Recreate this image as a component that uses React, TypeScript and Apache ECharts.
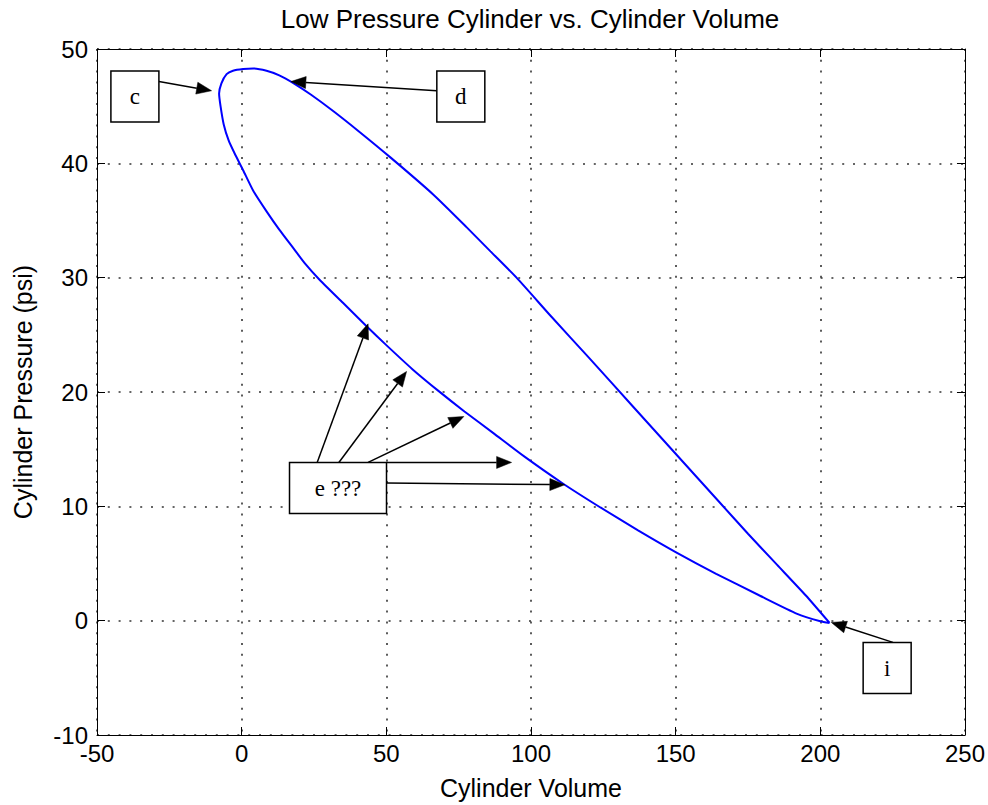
import { useEffect, useRef } from "react";
import * as echarts from "echarts";

// Pressure-volume loop (volume, psi)
// upper (expansion) branch from the right-hand tip up to the peak, then the lower branch back
const loopVolume = [
  203.2, 195.0, 185.0, 175.0, 165.0, 150.0, 135.0, 120.0, 107.0, 95.0,
  86.0, 77.8, 66.1, 51.5, 40.0, 31.5, 24.0, 18.0, 13.0, 8.6,
  4.0, 0.5, -3.0, -5.2, -7.0, -7.8, -7.3, -6.2, -4.5, -2.5,
  0.5, 4.0, 8.6, 13.0, 17.8, 22.0, 27.0, 35.0, 43.0, 50.0,
  59.0, 68.0, 77.0, 87.0, 98.0, 111.0, 124.0, 137.0, 150.0, 164.0,
  179.0, 192.0, 200.0, 203.2,
];
const loopPressure = [
  -0.2, 2.2, 4.9, 7.6, 10.4, 14.6, 18.8, 23.0, 26.6, 30.0,
  32.3, 34.4, 37.3, 40.5, 42.9, 44.6, 46.0, 47.0, 47.7, 48.1,
  48.3, 48.25, 48.1, 47.8, 47.0, 46.1, 45.0, 43.4, 42.0, 40.9,
  39.4, 37.6, 35.8, 34.2, 32.6, 31.2, 29.8, 27.8, 25.8, 24.1,
  22.0, 20.1, 18.3, 16.4, 14.3, 12.0, 9.9, 7.9, 6.0, 4.1,
  2.2, 0.6, -0.05, -0.2,
];

// Axis ranges / ticks
const xRange = [-50, 250];
const xStep = 50;
const yRange = [-10, 50];
const yStep = 10;

// Annotation boxes: label, centre in data coordinates
const boxLabels = ["c", "d", "e ???", "i"];
const boxCenters = [
  [-36.9, 45.85],
  [75.75, 45.85],
  [33.3, 11.6],
  [223.1, -4.15],
];
// Arrows: start and tip in data coordinates
const arrowStarts = [
  [-28.6, 47.15],
  [67.4, 46.35],
  [26.1, 13.84],
  [33.6, 13.84],
  [43.7, 13.84],
  [50.1, 13.84],
  [50.1, 12.04],
  [225.1, -1.9],
];
const arrowTips = [
  [-10.4, 46.35],
  [17.0, 47.15],
  [43.7, 25.96],
  [57.0, 21.8],
  [76.8, 17.86],
  [93.3, 13.84],
  [111.7, 11.89],
  [203.8, -0.15],
];

const SANS = "'Liberation Sans', Arial, sans-serif";
const SERIF = "'Liberation Serif', 'Times New Roman', serif";

export default function App() {
  const ref = useRef<HTMLDivElement>(null);

  useEffect(() => {
    if (!ref.current) return;
    const chart = echarts.init(ref.current, undefined, { renderer: "svg" });

    const axisLine = { show: true, onZero: false, lineStyle: { color: "#000", width: 1 } };
    const axisTick = { show: true, inside: true, length: 8, lineStyle: { color: "#000", width: 1 } };
    const gridLine = { show: true, lineStyle: { color: "#333", width: 1.6, type: [2, 8.8] } };
    const labelStyle = { color: "#000", fontSize: 24, fontFamily: SANS };
    const nameStyle = { color: "#000", fontSize: 25, fontFamily: SANS };

    chart.setOption({
      animation: false,
      backgroundColor: "#fff",
      title: {
        text: "Low Pressure Cylinder vs. Cylinder Volume",
        left: 525,
        top: 1,
        textAlign: "center",
        textStyle: { color: "#000", fontSize: 26, fontWeight: "normal", fontFamily: SANS },
      },
      grid: { left: 97, top: 49, width: 869, height: 686, containLabel: false },
      xAxis: [
        {
          type: "value",
          min: xRange[0],
          max: xRange[1],
          interval: xStep,
          position: "bottom",
          name: "Cylinder Volume",
          nameLocation: "middle",
          nameGap: 40,
          nameTextStyle: nameStyle,
          axisLine,
          axisTick,
          axisLabel: { ...labelStyle, margin: 6 },
          splitLine: gridLine,
        },
        {
          type: "value",
          min: xRange[0],
          max: xRange[1],
          interval: xStep,
          position: "top",
          axisLine,
          axisTick,
          axisLabel: { show: false },
          splitLine: { show: false },
        },
      ],
      yAxis: [
        {
          type: "value",
          min: yRange[0],
          max: yRange[1],
          interval: yStep,
          position: "left",
          name: "Cylinder Pressure (psi)",
          nameLocation: "middle",
          nameGap: 62,
          nameTextStyle: nameStyle,
          axisLine,
          axisTick,
          axisLabel: { ...labelStyle, margin: 9 },
          splitLine: gridLine,
        },
        {
          type: "value",
          min: yRange[0],
          max: yRange[1],
          interval: yStep,
          position: "right",
          axisLine,
          axisTick,
          axisLabel: { show: false },
          splitLine: { show: false },
        },
      ],
      series: [
        {
          type: "line",
          xAxisIndex: 0,
          yAxisIndex: 0,
          data: loopVolume.map((v, i) => [v, loopPressure[i]]),
          showSymbol: false,
          symbol: "none",
          smooth: 0.2,
          lineStyle: { color: "#0000ff", width: 2 },
        },
      ],
    });

    const toPx = (p: number[]) =>
      chart.convertToPixel({ xAxisIndex: 0, yAxisIndex: 0 }, p) as number[];

    const graphics: any[] = [];
    arrowStarts.forEach((s0, i) => {
      const s = toPx(s0);
      const t = toPx(arrowTips[i]);
      const dx = t[0] - s[0];
      const dy = t[1] - s[1];
      const L = Math.hypot(dx, dy);
      const ux = dx / L;
      const uy = dy / L;
      const headLen = 15;
      const half = 6;
      const bx = t[0] - ux * headLen;
      const by = t[1] - uy * headLen;
      const nx = -uy;
      const ny = ux;
      graphics.push({
        type: "line",
        z: 100,
        shape: { x1: s[0], y1: s[1], x2: bx, y2: by },
        style: { stroke: "#000", lineWidth: 1.5 },
      });
      graphics.push({
        type: "polygon",
        z: 100,
        shape: {
          points: [
            [t[0], t[1]],
            [bx + nx * half, by + ny * half],
            [bx - nx * half, by - ny * half],
          ],
        },
        style: { fill: "#000", stroke: "#000", lineWidth: 0.5 },
      });
    });
    boxLabels.forEach((label, i) => {
      const c = toPx(boxCenters[i]);
      const w = label.length > 1 ? 97 : 48;
      const h = 51;
      graphics.push({
        type: "rect",
        z: 101,
        shape: { x: c[0] - w / 2, y: c[1] - h / 2, width: w, height: h },
        style: { fill: "#fff", stroke: "#000", lineWidth: 1.5 },
      });
      graphics.push({
        type: "text",
        z: 102,
        x: c[0],
        y: c[1],
        style: {
          text: label,
          fontSize: 23,
          fontFamily: SERIF,
          fill: "#000",
          align: "center",
          verticalAlign: "middle",
          textAlign: "center",
          textVerticalAlign: "middle",
        },
      });
    });
    chart.setOption({ graphic: graphics });

    return () => chart.dispose();
  }, []);

  return (
    <div
      ref={ref}
      style={{ position: "fixed", left: 0, top: 0, width: 988, height: 805, background: "#fff" }}
    />
  );
}
